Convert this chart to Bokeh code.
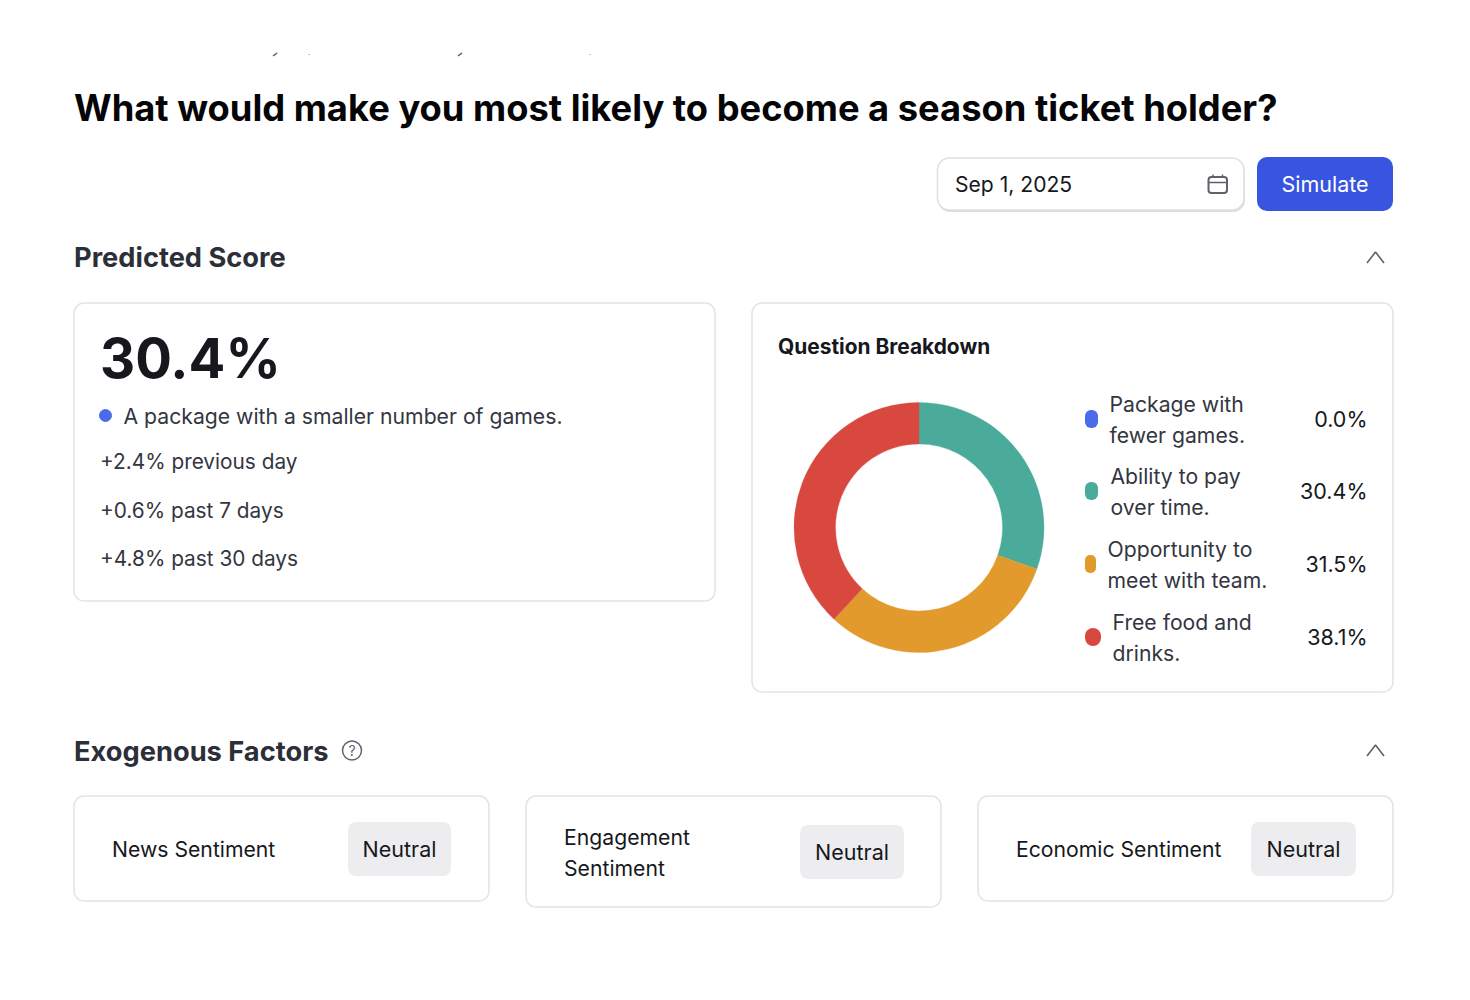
import math
from bokeh.core.properties import value
from bokeh.plotting import figure
from bokeh.models import Range1d, BoxAnnotation
from bokeh.embed import file_html
from bokeh.resources import INLINE

# ---- data ----
breakdown_labels = ["Package with\nfewer games.", "Ability to pay\nover time.",
                    "Opportunity to\nmeet with team.", "Free food and\ndrinks."]
breakdown_values = [0.0, 30.4, 31.5, 38.1]
breakdown_colors = ["#4B6BEA", "#4BAB9A", "#E39A2D", "#D9483F"]
score_text = "30.4%"
score_deltas = ["+2.4% previous day", "+0.6% past 7 days", "+4.8% past 30 days"]
factor_names = ["News Sentiment", "Engagement\nSentiment", "Economic Sentiment"]
factor_states = ["Neutral", "Neutral", "Neutral"]

W, H = 1462, 984
FONT = "Inter"
p = figure(width=W, height=H, output_backend="svg", toolbar_location=None,
           x_range=Range1d(0.5, W + 0.5), y_range=Range1d(H + 0.5, 0.5),
           min_border=0, outline_line_color=None, background_fill_color="white",
           border_fill_color="white")
p.axis.visible = False
p.grid.visible = False


def box(l, t, r, b, fill="white", line="#E3E4E8", radius=10, lw=1.5):
    p.add_layout(BoxAnnotation(left=l, right=r, top=t, bottom=b, border_radius=int(radius),
                               fill_color=fill, fill_alpha=1, line_color=line,
                               line_alpha=1 if line else 0, line_width=lw, level="underlay",
                               editable=False))


def text(x, y, s, size, color="#16181D", style="normal", align="left", font=FONT):
    p.text([x], [y], text=[s], text_font=value(font), text_font_size=value(f"{size}px"),
           text_font_style=style, text_color=color, text_align=align,
           text_baseline="middle")


def two_lines(x, y0, s, size, color, gap):
    for i, part in enumerate(s.split("\n")):
        text(x, y0 + i * gap, part, size, color)


# clipped remnants of scrolled-off text at the top
p.segment([273, 458, 308.5, 589.5], [56, 56, 54.5, 54.5], [277, 462, 310, 591], [53, 53, 54.5, 54.5],
          line_color="#555A63", line_width=[1.5, 1.5, 1, 1], line_alpha=[1, 1, 0.5, 0.5])

text(74, 108, "What would make you most likely to become a season ticket holder?", 36.3,
     "#050507", "bold")

# date input + button
box(938, 160, 1245, 212, "#DCDDE0", None, 12, 0)
box(937.5, 158, 1244, 210, "white", "#DEDFE3", 12, 1.5)
text(955, 184, "Sep 1, 2025", 21.1, "#16181D")
box(1208.5, 177, 1227, 193, "white", "#5F6269", 3, 2)
p.line([1209, 1227], [182.5, 182.5], line_color="#5F6269", line_width=1.5)
p.segment([1213, 1222.5], [174.5, 174.5], [1213, 1222.5], [178, 178], line_color="#5F6269", line_width=1.5)
box(1257, 157, 1393, 211, "#3755E0", None, 10, 0)
text(1325, 184, "Simulate", 21.5, "white", align="center")

# section header
text(74, 257, "Predicted Score", 27.25, "#2C2F38", "bold")
p.line([1367, 1375.5, 1384], [263, 252, 263], line_color="#5F6269", line_width=1.6)

# score card
box(74, 303, 715, 601)
text(100, 358, score_text, 54.5, "#16181D", "bold")
p.scatter([105.5], [415.5], size=12, color=breakdown_colors[0])
text(123.5, 416, "A package with a smaller number of games.", 21.2, "#33363F")
for y, s in zip([461, 510, 558], score_deltas):
    text(100, y, s, 20.8, "#33363F")

# breakdown card
box(752, 303, 1393, 692)
text(778, 346, "Question Breakdown", 20.9, "#16181D", "bold")

total = sum(breakdown_values)
start = math.pi / 2
starts, ends = [], []
for v in breakdown_values:
    end = start - 2 * math.pi * v / total
    starts.append(start)
    ends.append(end)
    start = end
for s, e, c, v in zip(starts, ends, breakdown_colors, breakdown_values):
    if v > 0:
        p.annular_wedge([919], [527.5], inner_radius=83.5, outer_radius=125,
                        inner_radius_units="screen", outer_radius_units="screen",
                        start_angle=s, end_angle=e, direction="clock",
                        fill_color=c, line_color=c, line_width=0.3)

leg_y = [419, 491, 564, 637]
leg_x = [1109.5, 1110.5, 1107.5, 1112.5]
dot_w = [13, 13, 11, 16]
dot_l = [1085, 1085, 1085, 1085]
for y, x, w, l, lab, val, col in zip(leg_y, leg_x, dot_w, dot_l, breakdown_labels,
                                     breakdown_values, breakdown_colors):
    box(l, y - 9, l + w, y + 9, col, None, w // 2, 0)
    two_lines(x, y - 15, lab, 21.2, "#33363F", 30.5)
    text(1367.5, y, f"{val:.1f}%", 21.5, "#16181D", align="right")

# exogenous section
text(74, 751, "Exogenous Factors", 27.25, "#2C2F38", "bold")
p.scatter([352], [750.5], size=19, marker="circle", fill_color=None,
          line_color="#5F6269", line_width=1.5)
text(352, 750.5, "?", 14, "#5F6269", align="center")
p.line([1367, 1375.5, 1384], [756, 745, 756], line_color="#5F6269", line_width=1.6)

cards = [(74, 489, 796, 901), (526, 941, 796, 907), (978, 1393, 796, 901)]
badges = [(348, 451, 822, 876), (800, 904, 825, 879), (1251, 1356, 822, 876)]
for (l, r, t, b), (bl, br, bt, bb), name, state in zip(cards, badges, factor_names, factor_states):
    box(l, t, r, b)
    box(bl, bt, br, bb, "#EDEDEF", None, 8, 0)
    cy = (bt + bb) / 2
    if "\n" in name:
        two_lines(l + 38, cy - 15, name, 21.2, "#16181D", 30.5)
    else:
        text(l + 38, cy, name, 21.2, "#16181D")
    text((bl + br) / 2, cy, state, 21.5, "#16181D", align="center")

open("out.html", "w").write(file_html(p, INLINE))
